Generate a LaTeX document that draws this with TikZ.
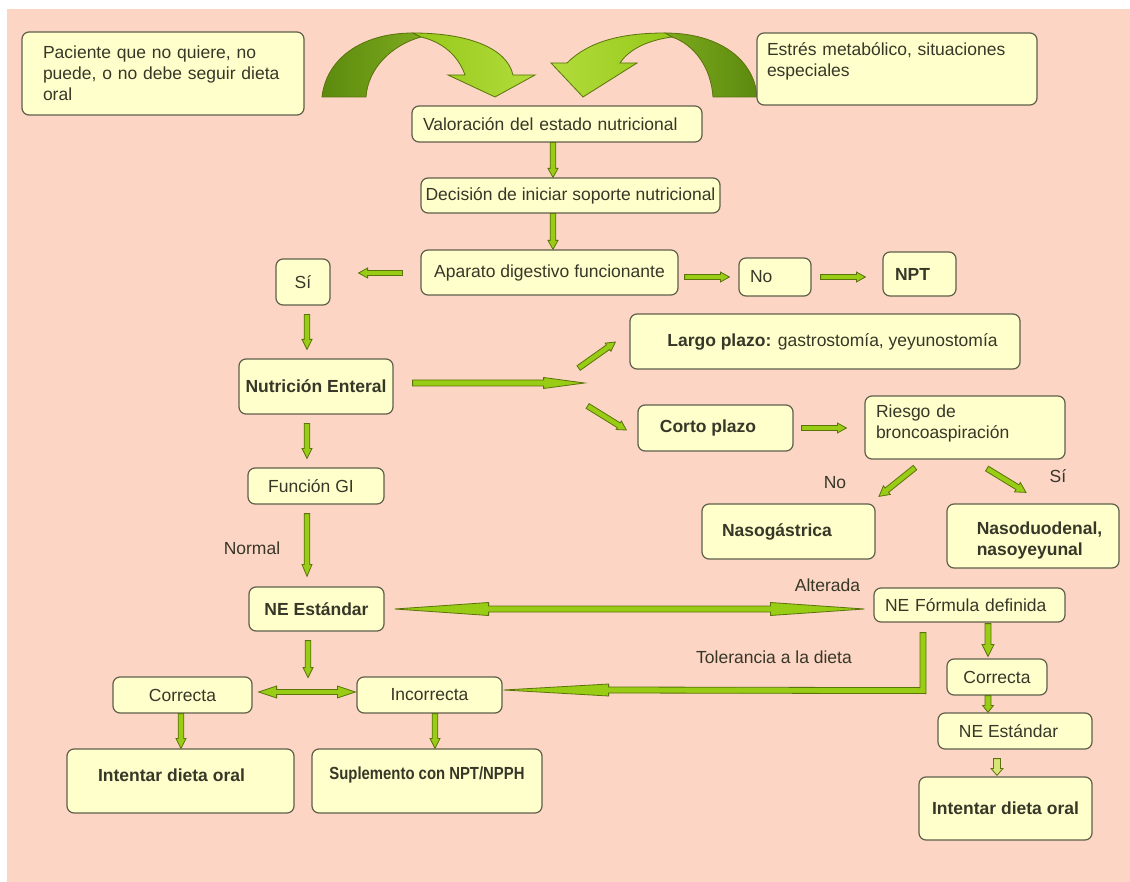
\documentclass[tikz,border=0pt]{standalone}
\usepackage{graphicx}
\usepackage{fontspec}
\setmainfont{Liberation Sans}
\usetikzlibrary{calc}
\definecolor{bgpink}{RGB}{252,213,197}
\definecolor{boxfill}{RGB}{255,255,204}
\definecolor{boxline}{RGB}{95,95,75}
\definecolor{txt}{RGB}{55,55,40}
\definecolor{agreen}{RGB}{153,204,20}
\definecolor{aline}{RGB}{90,115,10}
\definecolor{alight}{RGB}{215,228,120}
\definecolor{dkA}{RGB}{92,138,14}
\definecolor{dkB}{RGB}{125,170,30}
\definecolor{ltA}{RGB}{150,200,25}
\definecolor{ltB}{RGB}{178,220,60}
\newcommand\fs{\fontsize{17.5}{21}\selectfont}
\newcommand\up[2]{\raisebox{#1}[\height][\depth]{#2}}
% block arrow: [style]{start}{end}{shaft half}{head half}{head length}
\newcommand\blockarrow[6][]{%
  \coordinate (bas) at (#2); \coordinate (bae) at (#3);
  \coordinate (ban) at ($(bae)!#6!(bas)$);
  \draw[barrow,#1] ($(bas)!#4!90:(bae)$) -- ($(ban)!#4!90:(bae)$) -- ($(ban)!#5!90:(bae)$) -- (bae)
    -- ($(ban)!#5!-90:(bae)$) -- ($(ban)!#4!-90:(bae)$) -- ($(bas)!#4!-90:(bae)$) -- cycle;}
\newcommand\dblarrow[6][]{%
  \coordinate (das) at (#2); \coordinate (dae) at (#3);
  \coordinate (dna) at ($(das)!#6!(dae)$); \coordinate (dnb) at ($(dae)!#6!(das)$);
  \draw[barrow,#1] (das) -- ($(dna)!#5!90:(dae)$) -- ($(dna)!#4!90:(dae)$) -- ($(dnb)!#4!90:(dae)$)
    -- ($(dnb)!#5!90:(dae)$) -- (dae) -- ($(dnb)!#5!-90:(dae)$) -- ($(dnb)!#4!-90:(dae)$)
    -- ($(dna)!#4!-90:(dae)$) -- ($(dna)!#5!-90:(dae)$) -- cycle;}
\tikzset{
  box/.style={draw=boxline, fill=boxfill, rounded corners=7pt, line width=1.2pt, text=txt,
    font=\fs, inner ysep=0pt, inner xsep=3pt, align=center},
  sz/.style 2 args={minimum width=#1pt, minimum height=#2pt},
  lft/.style 2 args={align=left, text width=#1pt, inner xsep=#2pt},
  lbl/.style={text=txt, font=\fs, inner sep=0pt},
  barrow/.style={draw=aline, fill=agreen, line width=0.8pt, line join=miter},
  curvarrow/.style={draw=aline, line width=0.8pt},
}
\begin{document}
\begin{tikzpicture}[x=1pt, y=-1pt]
\useasboundingbox (0,0) rectangle (1130,882);
\fill[white] (0,0) rectangle (1130,882);
\fill[bgpink] (7,9) rectangle (1130,882);

% big curved arrows
\draw[curvarrow, left color=dkA, right color=dkB]
  (322,97) .. controls (326,60) and (360,33) .. (413,33) -- (421,37)
  .. controls (392,45) and (368,68) .. (366,97) -- cycle;
\draw[curvarrow, left color=ltA, right color=ltB]
  (413,33) .. controls (468,33) and (507,48) .. (513,75) -- (535,75) -- (495,97) -- (448,75) -- (465,75)
  .. controls (458,55) and (442,42) .. (421,37) -- cycle;
\draw[curvarrow, left color=dkB, right color=dkA]
  (665,33) .. controls (722,33) and (755,62) .. (757,97) -- (713,97)
  .. controls (711,68) and (695,45) .. (672,37) -- cycle;
\draw[curvarrow, left color=ltB, right color=ltA]
  (567,63) .. controls (588,42) and (620,33) .. (665,33) -- (672,37)
  .. controls (650,40) and (630,48) .. (620,63) -- (637,63) -- (583,97) -- (551,63) -- cycle;

% boxes
\node[box, sz={282}{83}, lft={240}{21}] (pac) at (163,73.5) {Paciente que no quiere, no\\puede, o no debe seguir dieta\\oral};
\node[box, sz={280}{72}, lft={260}{10}] (est) at (897,69) {\up{8pt}{Estrés metabólico, situaciones}\\\up{8pt}{especiales}};
\node[box, sz={290}{36}, lft={268}{11}] (val) at (557,124) {Valoración del estado nutricional};
\node[box, sz={299}{35}] (dec) at (570.5,195.5) {Decisión de iniciar soporte nutricional};
\node[box, sz={257}{45}] (apa) at (549.5,272.5) {Aparato digestivo funcionante};
\node[box, sz={72}{38}, lft={50}{11}] (no) at (775,277) {No};
\node[box, sz={73}{44}, lft={49}{12}, font=\fs\bfseries] (npt) at (919.5,274) {NPT};
\node[box, sz={54}{46}] (si) at (303,282) {Sí};
\node[box, sz={154}{55}, font=\fs\bfseries] (nut) at (316,386.5) {Nutrición Enteral};
\node[box, sz={390}{55}] (largo) at (825,341.5) {\hspace*{15pt}\textbf{Largo plazo:} gastrostomía, yeyunostomía};
\node[box, sz={155}{46}, font=\fs\bfseries] (corto) at (715.5,428) {Corto plazo\hspace*{15pt}};
\node[box, sz={200}{63}, lft={178}{11}] (ries) at (965,427.5) {\up{4.5pt}{Riesgo de}\\\up{4.5pt}{broncoaspiración}};
\node[box, sz={173}{55}, lft={133}{20}, font=\fs\bfseries] (naso) at (788.5,531.5) {Nasogástrica};
\node[box, sz={172}{64}, align=left, font=\fs\bfseries] (nasod) at (1033,536) {\hspace*{13pt}\up{-4pt}{Nasoduodenal,}\\\hspace*{13pt}\up{-4pt}{nasoyeyunal}};
\node[box, sz={136}{36}] (func) at (316,486) {Función GI\hspace*{10pt}};
\node[box, sz={135}{44}, font=\fs\bfseries] (neest) at (316.5,609) {NE Estándar};
\node[box, sz={191}{34}, lft={169}{11}] (nefor) at (969.5,605) {NE Fórmula definida};
\node[box, sz={139}{36}] (corrl) at (182.5,695) {Correcta};
\node[box, sz={145}{36}] (inc) at (429.5,695) {Incorrecta};
\node[box, sz={227}{64}, font=\fs\bfseries] (intl) at (180.5,781) {\up{6pt}{Intentar dieta oral}\hspace*{18pt}};
\node[box, sz={230}{64}, font=\fs\bfseries] (sup) at (427,781) {\up{6pt}{\scalebox{0.85}[1]{Suplemento con NPT/NPPH}}};
\node[box, sz={100}{36}] (corrr) at (997,677) {Correcta};
\node[box, sz={154}{36}] (neestr) at (1015,731) {NE Estándar\hspace*{13pt}};
\node[box, sz={173}{63}, font=\fs\bfseries] (intr) at (1005.5,808.5) {Intentar dieta oral};

% free labels
\node[lbl] (lno) at (835,483) {No};
\node[lbl] (lsi) at (1058,476) {Sí};
\node[lbl] (lnormal) at (252,548) {Normal};
\node[lbl] (lalt) at (827.5,585) {Alterada};
\node[lbl] (ltol) at (774,657) {Tolerancia a la dieta};

% arrows
\blockarrow{$(val.south)+(-4,0)$}{$(dec.north)+(-17.5,0)$}{2.8pt}{5pt}{9pt}
\blockarrow{$(dec.south)+(-17.5,0)$}{$(apa.north)+(3.5,0)$}{2.8pt}{5pt}{9pt}
\blockarrow{$(apa.west)+(-18,0.5)$}{$(si.east)+(28,-9)$}{2.5pt}{5pt}{9pt}
\blockarrow{$(apa.east)+(6,4.5)$}{$(no.west)+(-9,0)$}{2.5pt}{5pt}{9pt}
\blockarrow{$(no.east)+(9,0)$}{$(npt.west)+(-17,3)$}{2.5pt}{5pt}{9pt}
\blockarrow{$(si.south)+(4,9)$}{$(nut.north)+(-9,-9)$}{2.8pt}{5pt}{10pt}
\coordinate (split) at ($(nut.east)+(191,-3.5)$);
\blockarrow{$(nut.east)+(19,-3.5)$}{split}{3pt}{5.5pt}{41pt}
\blockarrow{$(split)+(-6,-15)$}{$(largo.west)+(-14,0.5)$}{2.8pt}{5pt}{9pt}
\blockarrow{$(split)+(3,23)$}{$(corto.west)+(-11,2)$}{2.8pt}{5pt}{9pt}
\blockarrow{$(corto.east)+(8,0)$}{$(ries.west)+(-18,0.5)$}{2.5pt}{5pt}{9pt}
\blockarrow{$(ries.south)+(-50,8)$}{$(naso.north)+(90.5,-7)$}{2.8pt}{5.5pt}{10pt}
\blockarrow{$(ries.south)+(22,9)$}{$(nasod.north)+(-7,-11)$}{2.8pt}{5.5pt}{10pt}
\blockarrow{$(nut.south)+(-9,9)$}{$(func.north)+(-9,-9)$}{2.8pt}{5pt}{10pt}
\blockarrow{$(func.south)+(-9,9)$}{$(neest.north)+(-9.5,-10)$}{2.8pt}{5pt}{12pt}
\dblarrow{$(neest.east)+(10,0)$}{$(nefor.west)+(-9,4)$}{3pt}{6.5pt}{94pt}
\coordinate (nedown) at ($(neest.south)+(-8.5,46)$);
\blockarrow{$(neest.south)+(-8.5,9)$}{nedown}{2.8pt}{5pt}{10pt}
\dblarrow{$(corrl.east)+(6,-3)$}{$(inc.west)+(-1,-3)$}{2.5pt}{6pt}{18pt}
\blockarrow{$(nefor.south)+(18.5,1)$}{$(corrr.north)+(-9,-2)$}{3pt}{6pt}{12pt}
\blockarrow{$(corrr.south)+(-9,0)$}{$(neestr.north)+(-27,0)$}{3pt}{5.5pt}{7pt}
\blockarrow[fill=alight]{$(neestr.south)+(-18,9)$}{$(intr.north)+(-8.5,-1)$}{3.5pt}{6pt}{7pt}
\blockarrow{$(corrl.south)+(-1.5,0)$}{$(intl.north)+(0.5,0)$}{2.8pt}{5pt}{10pt}
\blockarrow{$(inc.south)+(5.5,0)$}{$(sup.north)+(8,0)$}{2.8pt}{5pt}{10pt}
% tolerancia elbow connector
\coordinate (toltop) at ($(nefor.south)+(-46.5,10)$);
\coordinate (tolend) at ($(inc.east)+(1,-5)$);
\draw[barrow] ($(toltop)+(-3,0)$) -- ($(toltop)+(3,0)$) -- ($(toltop)+(3,61)$) -- ($(tolend)+(105,3)$)
  -- ($(tolend)+(105,6)$) -- (tolend) -- ($(tolend)+(105,-6)$) -- ($(tolend)+(105,-3)$)
  -- ($(toltop)+(-3,55)$) -- cycle;
\end{tikzpicture}
\end{document}
